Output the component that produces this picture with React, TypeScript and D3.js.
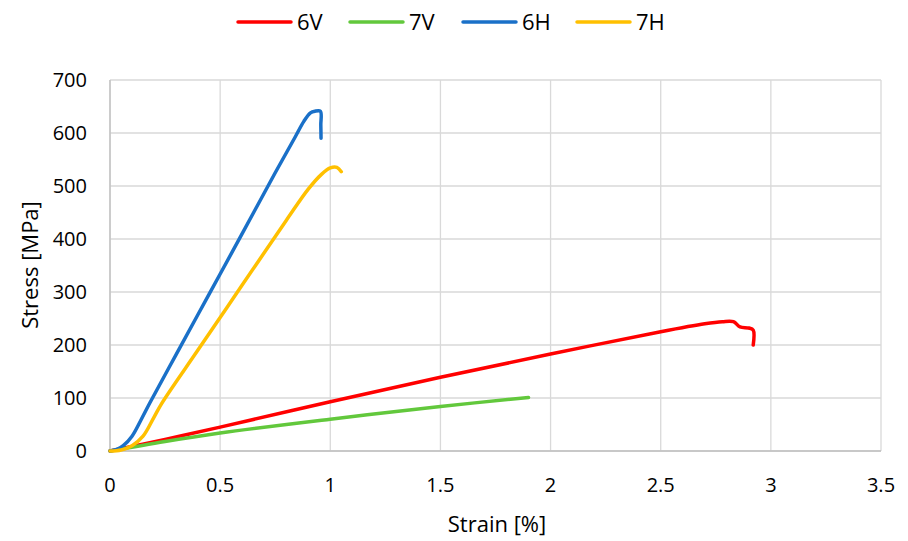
import React from 'react';
import * as d3 from 'd3';

// series: strain [%] and stress [MPa]
const seriesNames = ['6V', '7V', '6H', '7H'];
const seriesColors = ['#ff0000', '#62c83c', '#1a70c8', '#ffc000'];

const strain6V = [0, 0.25, 0.5, 1, 1.5, 2, 2.5, 2.7, 2.78, 2.83, 2.86, 2.9, 2.92, 2.92];
const stress6V = [0, 22, 45, 93, 139, 183, 225, 240, 244, 244, 234, 232, 228, 200];

const strain7V = [0, 0.25, 0.5, 1, 1.5, 1.9];
const stress7V = [0, 18, 34, 60, 84, 101];

const strain6H = [0, 0.03, 0.06, 0.1, 0.14, 0.18, 0.3, 0.45, 0.6, 0.75, 0.84, 0.88, 0.91, 0.93, 0.955, 0.957, 0.958];
const stress6H = [0, 3, 10, 28, 58, 90, 182, 296, 410, 525, 592, 622, 638, 641, 641, 615, 590];

const strain7H = [0, 0.05, 0.1, 0.15, 0.2, 0.235, 0.4, 0.6, 0.8, 0.9, 0.96, 1.0, 1.03, 1.05];
const stress7H = [0, 2, 10, 28, 64, 90, 191, 313, 435, 494, 522, 534, 535, 527];

const xTicks = [0, 0.5, 1, 1.5, 2, 2.5, 3, 3.5];
const yTicks = [0, 100, 200, 300, 400, 500, 600, 700];

const W = 908, H = 541;
const margin = {top: 80, right: 27, bottom: 90, left: 110};
const font = 'Open Sans, sans-serif';

export default function App() {
    const width = W - margin.left - margin.right;
    const height = H - margin.top - margin.bottom;

    const xScale = d3.scaleLinear().domain([0, 3.5]).range([0, width]);
    const yScale = d3.scaleLinear().domain([0, 700]).range([height, 0]);

    const data = [
        {x: strain6V, y: stress6V},
        {x: strain7V, y: stress7V},
        {x: strain6H, y: stress6H},
        {x: strain7H, y: stress7H}
    ];

    const line = d3.line<[number, number]>()
        .curve(d3.curveCatmullRom.alpha(0.5))
        .x(d => xScale(d[0]))
        .y(d => yScale(d[1]));

    const legendX = [238, 350, 463, 577];

    return (
        <svg width={W} height={H} style={{position: 'absolute', left: 0, top: 0, background: '#fff'}}>
            <g transform={`translate(${margin.left},${margin.top})`}>
                {yTicks.map(t => (
                    <line key={'gy' + t} x1={0} x2={width} y1={yScale(t)} y2={yScale(t)} stroke="#d9d9d9" strokeWidth={1.3}/>
                ))}
                {xTicks.map(t => (
                    <line key={'gx' + t} x1={xScale(t)} x2={xScale(t)} y1={0} y2={height} stroke="#d9d9d9" strokeWidth={1.3}/>
                ))}
                <line x1={0} x2={0} y1={0} y2={height} stroke="#bfbfbf" strokeWidth={1.3}/>
                <line x1={0} x2={width} y1={height} y2={height} stroke="#bfbfbf" strokeWidth={1.3}/>

                {yTicks.map(t => (
                    <text key={'ty' + t} x={-23} y={yScale(t)} dy="0.35em" textAnchor="end"
                          fontFamily={font} fontSize={20} fill="#000">{t}</text>
                ))}
                {xTicks.map(t => (
                    <text key={'tx' + t} x={xScale(t)} y={height + 41} textAnchor="middle"
                          fontFamily={font} fontSize={20} fill="#000">{t}</text>
                ))}

                {data.map((s, i) => (
                    <path key={seriesNames[i]}
                          d={line(s.x.map((v, j) => [v, s.y[j]] as [number, number])) || ''}
                          fill="none" stroke={seriesColors[i]} strokeWidth={3.5}
                          strokeLinejoin="round" strokeLinecap="round"/>
                ))}
            </g>

            <text x={497} y={532} textAnchor="middle" fontFamily={font} fontSize={22} fill="#000">Strain [%]</text>
            <text transform="translate(38,265) rotate(-90)" textAnchor="middle" fontFamily={font} fontSize={22} fill="#000">Stress [MPa]</text>

            {seriesNames.map((name, i) => (
                <g key={'lg' + name} transform={`translate(${legendX[i]},22)`}>
                    <line x1={0} x2={53} y1={0} y2={0} stroke={seriesColors[i]} strokeWidth={3.5} strokeLinecap="round"/>
                    <text x={59} y={0} dy="0.36em" fontFamily={font} fontSize={22} fill="#000">{name}</text>
                </g>
            ))}
        </svg>
    );
}
